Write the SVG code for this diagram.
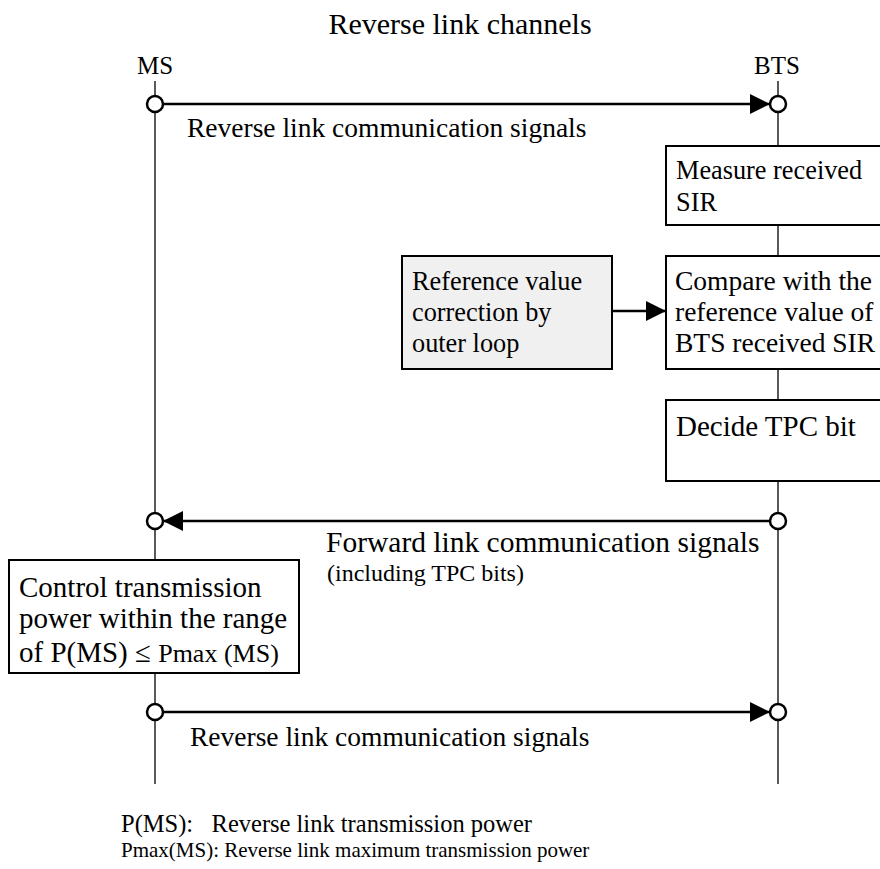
<svg xmlns="http://www.w3.org/2000/svg" width="880" height="869" viewBox="0 0 880 869">
<style>
text{font-family:"Liberation Serif","Times New Roman",serif;fill:#000}
.lane{stroke:#000;stroke-width:1.3;fill:none}
.box{fill:#fff;stroke:#000;stroke-width:2}
.grey{fill:#f0f0f0}
.conn{stroke:#000;stroke-width:2.5;fill:none}
.dot{fill:#fff;stroke:#000;stroke-width:2.5}
.lbl{font-size:27.5px}
.bt{font-size:26.3px}
.bt2{font-size:27.5px}
.bt3{font-size:29px}
</style>
<defs>
<marker id="ah" viewBox="0 0 10 10" refX="10" refY="5" markerWidth="8" markerHeight="8" markerUnits="strokeWidth" orient="auto">
<path d="M0,0 L10,5 L0,10 z" fill="#000"/>
</marker>
</defs>
<rect width="880" height="869" fill="#fff"/>
<text x="460" y="34" font-size="30" text-anchor="middle">Reverse link channels</text>
<g id="lanes">
<line class="lane" x1="155" y1="81" x2="155" y2="784"/>
<line class="lane" x1="778" y1="81" x2="778" y2="784"/>
</g>
<g id="MS"><text x="155" y="74" font-size="25" text-anchor="middle">MS</text></g>
<g id="BTS"><text x="777" y="74" font-size="25" text-anchor="middle">BTS</text></g>
<g id="measure">
<rect class="box" x="666" y="146" width="230" height="79"/>
<text class="bt" x="676" y="179">Measure received</text>
<text class="bt" x="676" y="211">SIR</text>
</g>
<g id="reference">
<rect class="box grey" x="402" y="256" width="210" height="113"/>
<text class="bt" x="412" y="290">Reference value</text>
<text class="bt" x="412" y="321">correction by</text>
<text class="bt" x="412" y="352">outer loop</text>
</g>
<g id="compare">
<rect class="box" x="666" y="256" width="230" height="113"/>
<text class="bt2" x="675" y="290">Compare with the</text>
<text class="bt2" x="675" y="321">reference value of</text>
<text class="bt2" x="675" y="352">BTS received SIR</text>
</g>
<g id="decide">
<rect class="box" x="666" y="400" width="230" height="81"/>
<text class="bt3" x="676" y="436">Decide TPC bit</text>
</g>
<g id="control">
<rect class="box" x="9" y="560" width="290" height="113"/>
<text class="bt3" x="19" y="597">Control transmission</text>
<text class="bt3" x="19" y="628">power within the range</text>
<text class="bt3" x="19" y="662">of P(MS) ≤ <tspan font-size="26">Pmax (MS)</tspan></text>
</g>
<g id="connectors">
<line class="conn" x1="163" y1="104" x2="770" y2="104" marker-end="url(#ah)"/>
<line class="conn" x1="770" y1="521" x2="163" y2="521" marker-end="url(#ah)"/>
<line class="conn" x1="163" y1="712" x2="770" y2="712" marker-end="url(#ah)"/>
<line class="conn" x1="612" y1="311" x2="666" y2="311" marker-end="url(#ah)"/>
<circle class="dot" cx="155" cy="104" r="8"/>
<circle class="dot" cx="778" cy="104" r="8"/>
<circle class="dot" cx="155" cy="521" r="8"/>
<circle class="dot" cx="778" cy="521" r="8"/>
<circle class="dot" cx="155" cy="712" r="8"/>
<circle class="dot" cx="778" cy="712" r="8"/>
<text class="lbl" x="187" y="137">Reverse link communication signals</text>
<text x="326" y="552" font-size="29.5">Forward link communication signals</text>
<text x="327" y="581" font-size="24">(including TPC bits)</text>
<text class="lbl" x="190" y="746">Reverse link communication signals</text>
</g>
<g id="legend">
<text x="121" y="832" font-size="24.5" xml:space="preserve">P(MS):   Reverse link transmission power</text>
<text x="121" y="857" font-size="21">Pmax(MS): Reverse link maximum transmission power</text>
</g>
</svg>
